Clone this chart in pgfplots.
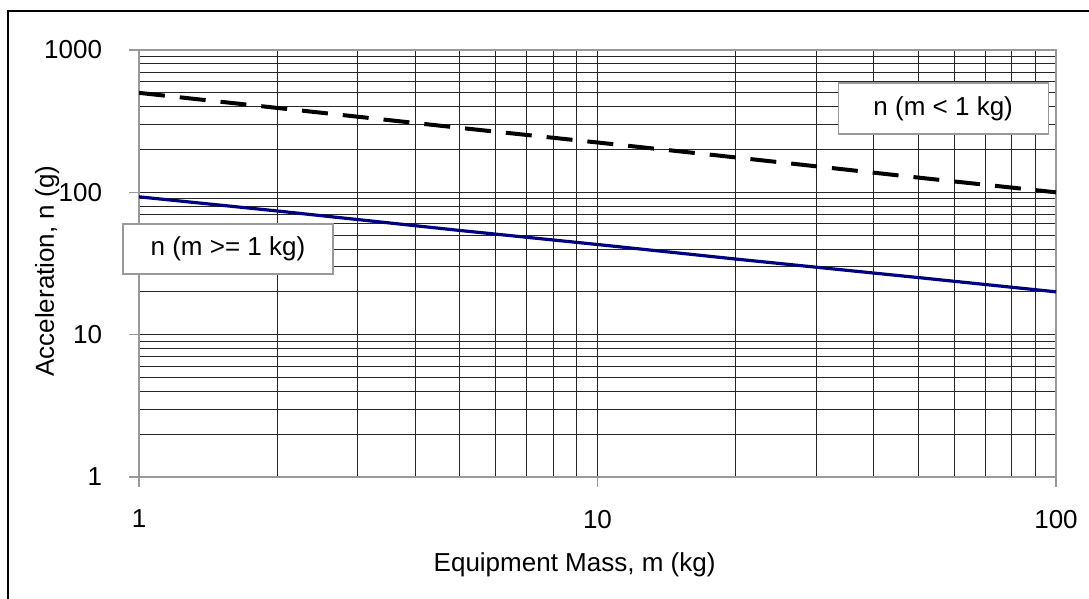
\documentclass[border=0pt]{standalone}
\usepackage{fontspec}
\setmainfont{Liberation Sans}
\usepackage{pgfplots}
\pgfplotsset{compat=1.18}

\definecolor{navyline}{RGB}{0,0,128}

\begin{document}
\fontsize{13}{16}\selectfont
\begin{tikzpicture}
% page frame, 1 px of the reference = 0.5pt
\useasboundingbox (0,0) rectangle (544.5pt,-299.5pt);
\draw[line width=0.7pt] (4pt,-299.5pt) -- (4pt,-5.5pt) -- (544.5pt,-5.5pt);

\begin{axis}[
    at={(69.5pt,-238.5pt)}, anchor=south west,
    scale only axis,
    width=458.5pt, height=213.5pt,
    xmode=log, ymode=log,
    xmin=1, xmax=100, ymin=1, ymax=1000,
    xtick={1,10,100}, ytick={1,10,100,1000},
    log ticks with fixed point,
    /pgf/number format/1000 sep={},
    /pgf/number format/assume math mode=true,
    ticklabel style={font=\fontsize{13}{16}\selectfont},
    xticklabel style={yshift=-7pt},
    yticklabel style={xshift=-9pt},
    tick align=outside,
    xtick pos=left, ytick pos=left,
    major tick length=5pt, minor tick length=0pt,
    tick style={gray!80, line width=0.6pt},
    axis line style={gray!80, line width=0.8pt},
    grid=both,
    major grid style={black!85, line width=0.45pt},
    minor grid style={black!85, line width=0.45pt},
    xlabel={Equipment Mass, m (kg)},
    ylabel={Acceleration, n (g)},
    label style={font=\fontsize{13}{16}\selectfont},
    xlabel style={at={(axis description cs:0.475,-0.206)}, anchor=center},
    ylabel style={at={(axis description cs:-0.1003,0.482)}, anchor=center},
    clip mode=individual,
]
% n (m < 1 kg)
\addplot[black, line width=2pt, dash pattern=on 13pt off 7.5pt] coordinates {
    (1,500) (2,392) (5,284) (10,224) (20,176) (50,127) (100,100)
};
% n (m >= 1 kg)
\addplot[navyline, line width=1.6pt] coordinates {
    (1,93) (2,74) (5,54) (10,43) (20,34) (50,25.2) (100,20)
};
\node[draw=gray!80, line width=0.7pt, fill=white, minimum width=105pt, minimum height=25.5pt,
      font=\fontsize{13}{16}\selectfont] at (rel axis cs:0.877,0.863) {n (m < 1 kg)};
\node[draw=gray!80, line width=0.7pt, fill=white, minimum width=105pt, minimum height=25pt,
      font=\fontsize{13}{16}\selectfont] at (rel axis cs:0.097,0.534) {n (m >= 1 kg)};
\end{axis}
\end{tikzpicture}
\end{document}
